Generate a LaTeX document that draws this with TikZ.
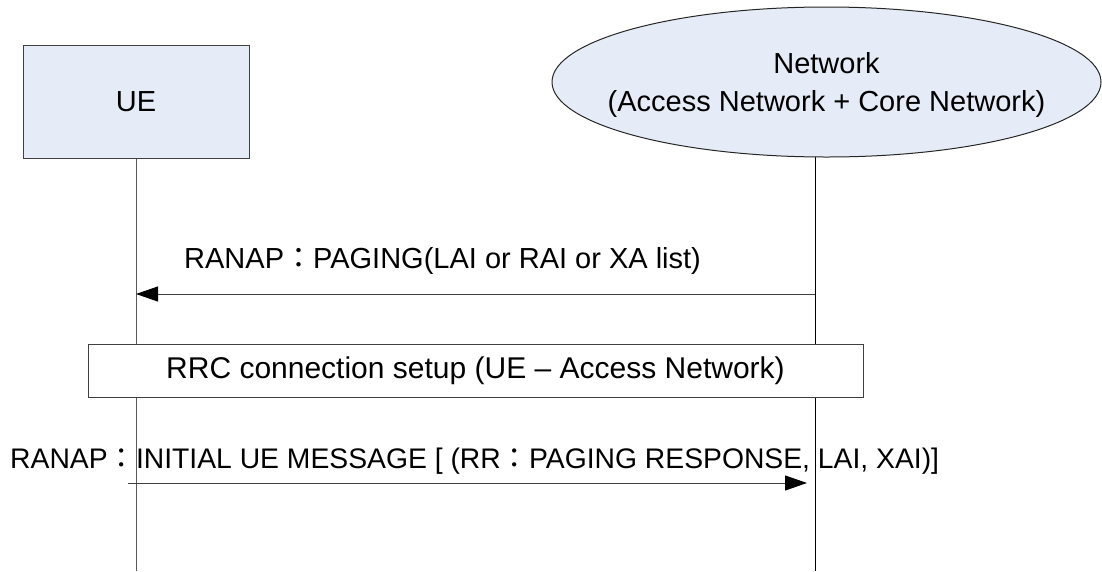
\documentclass[tikz,border=0pt]{standalone}
\usepackage{fontspec}
\setmainfont{Liberation Sans}
\newfontfamily\cjkfont{Noto Sans CJK JP}
\usetikzlibrary{shapes.geometric,arrows.meta}
\newcommand{\fwcolon}{{\cjkfont ：}}
\definecolor{boxblue}{HTML}{E6ECF7}
\definecolor{edgegray}{HTML}{404040}
\definecolor{lifegray}{HTML}{5A5A5A}
\begin{document}
\begin{tikzpicture}[x=1pt,y=1pt,
  txt/.style={font=\fontsize{29}{38}\selectfont, inner sep=0pt},
  lbl/.style={txt, anchor=base west},
  actorbox/.style={txt, draw=edgegray, fill=boxblue, line width=1pt, minimum width=226pt, minimum height=113pt},
  netshape/.style={ellipse, draw=black!85, fill=boxblue, line width=1pt, minimum width=549pt, minimum height=150pt, inner sep=0pt},
  phasebox/.style={txt, font=\fontsize{30}{38}\selectfont, draw=edgegray, fill=white, line width=1pt, minimum width=775pt, minimum height=53pt},
  life/.style={draw=lifegray, line width=1pt},
  msg/.style={draw=edgegray, line width=1pt, -{Triangle[length=22pt,width=15pt,color=black]}}
]
\useasboundingbox (0,0) rectangle (1102,-571);

% actors
\node[actorbox] (ue) at (136,-101.5) {UE};
\node[netshape] (net) at (826.5,-82) {};
\node[txt, anchor=base] (netl1) at (826.5,-73) {Network};
\node[txt, anchor=base] (netl2) at (826.5,-111) {(Access Network + Core Network)};

% lifelines
\coordinate (uebot) at (136,-571);
\coordinate (nettop) at (815,-157);
\coordinate (netbot) at (815,-571);
\draw[life] (ue.south) -- (uebot);
\draw[life, draw=black] (nettop) -- (netbot);

% paging
\node[lbl] (pglbl) at (184,-268) {RANAP\fwcolon PAGING(LAI or RAI or XA list)};
\coordinate (pgS) at (815,-294);
\coordinate (pgE) at (136,-294);
\draw[msg] (pgS) -- (pgE);

% RRC setup
\node[phasebox] (rrc) at (475.5,-370.5) {RRC connection setup (UE \textendash{} Access Network)};

% initial UE message
\node[lbl, font=\fontsize{28.3}{34}\selectfont] (inlbl) at (10,-468) {RANAP\fwcolon INITIAL UE MESSAGE [ (RR\fwcolon PAGING RESPONSE, LAI, XAI)]};
\coordinate (inS) at (128,-483);
\coordinate (inE) at (807,-483);
\draw[msg] (inS) -- (inE);
\end{tikzpicture}
\end{document}
